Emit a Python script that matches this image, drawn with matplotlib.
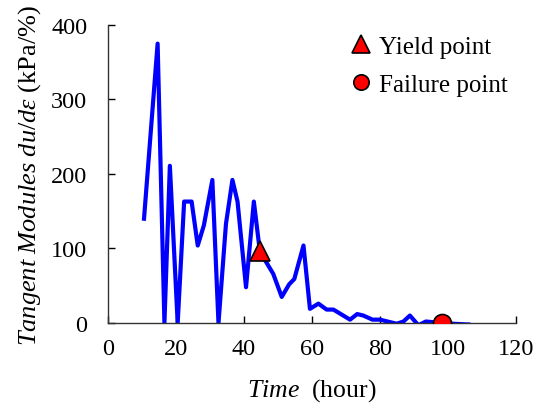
import matplotlib
matplotlib.use('Agg')
import matplotlib.pyplot as plt

# ----------------- Data -----------------
time_h = [10.6, 14.6, 16.6, 18.2, 20.5, 22.4, 24.6, 26.4, 28.2, 30.7, 32.5,
          34.7, 36.6, 38.1, 40.6, 42.9, 44.7, 46.5, 48.6, 51.1, 53.3, 54.8,
          57.5, 59.4, 61.9, 64.3, 66.3, 71.2, 73.3, 75.1, 77.8, 80.0, 84.9,
          86.9, 88.8, 91.3, 93.5, 98.1, 101.6, 106.0]
modulus = [140, 375, 0, 211, 0, 163, 163, 104, 131, 192, 0,
           133, 192, 163, 48, 163, 95, 82, 66, 35, 52, 59,
           104, 19, 26, 18, 18, 4.5, 12, 10, 4.5, 4.5, -1,
           2, 10, -3, 2, 0, -1, -2]

yield_pt = (44.7, 96)
failure_pt = (98.1, 0)

x_ticks = [0, 20, 40, 60, 80, 100, 120]
y_ticks = [0, 100, 200, 300, 400]

# ----------------- Style -----------------
plt.rcParams['font.family'] = 'Liberation Serif'
plt.rcParams['mathtext.fontset'] = 'custom'
plt.rcParams['mathtext.rm'] = 'Liberation Serif'
plt.rcParams['mathtext.it'] = 'Liberation Serif:italic'

fig = plt.figure(figsize=(5.47, 4.14), dpi=100)
ax = fig.add_axes([0.1974, 0.2174, 0.7459, 0.7198])

ax.plot(time_h, modulus, color='#0000ff', linewidth=3, zorder=2)
ax.plot(*yield_pt, marker='^', markersize=15, markerfacecolor='red',
        markeredgecolor='black', markeredgewidth=1.2, linestyle='none',
        label='Yield point', zorder=3)
ax.plot(*failure_pt, marker='o', markersize=13, markerfacecolor='red',
        markeredgecolor='black', markeredgewidth=1.2, linestyle='none',
        label='Failure point', zorder=3)

ax.set_xlim(0, 120)
ax.set_ylim(0, 400)
ax.set_xticks(x_ticks)
ax.set_yticks(y_ticks)
ax.tick_params(direction='in', length=5, width=1, labelsize=17.5, colors='black')
ax.tick_params(axis='y', pad=15)
ax.tick_params(axis='x', pad=11)

ax.spines['top'].set_visible(False)
ax.spines['right'].set_visible(False)
for s in ('left', 'bottom'):
    ax.spines[s].set_linewidth(1)
    ax.spines[s].set_color('#333333')

ax.set_xlabel(r'$\mathit{Time}$  (hour)', fontsize=18.5, labelpad=12)
ax.set_ylabel(r'$\mathit{Tangent\ Modules\ du/d\varepsilon}$ (kPa/%)', fontsize=19, labelpad=6)

ax.legend(loc='upper right', bbox_to_anchor=(1.034, 1.04), frameon=False,
          fontsize=18, handletextpad=0.1, labelspacing=0.62, handlelength=1.2,
          markerscale=0.85)

fig.savefig('out.png', dpi=100)
